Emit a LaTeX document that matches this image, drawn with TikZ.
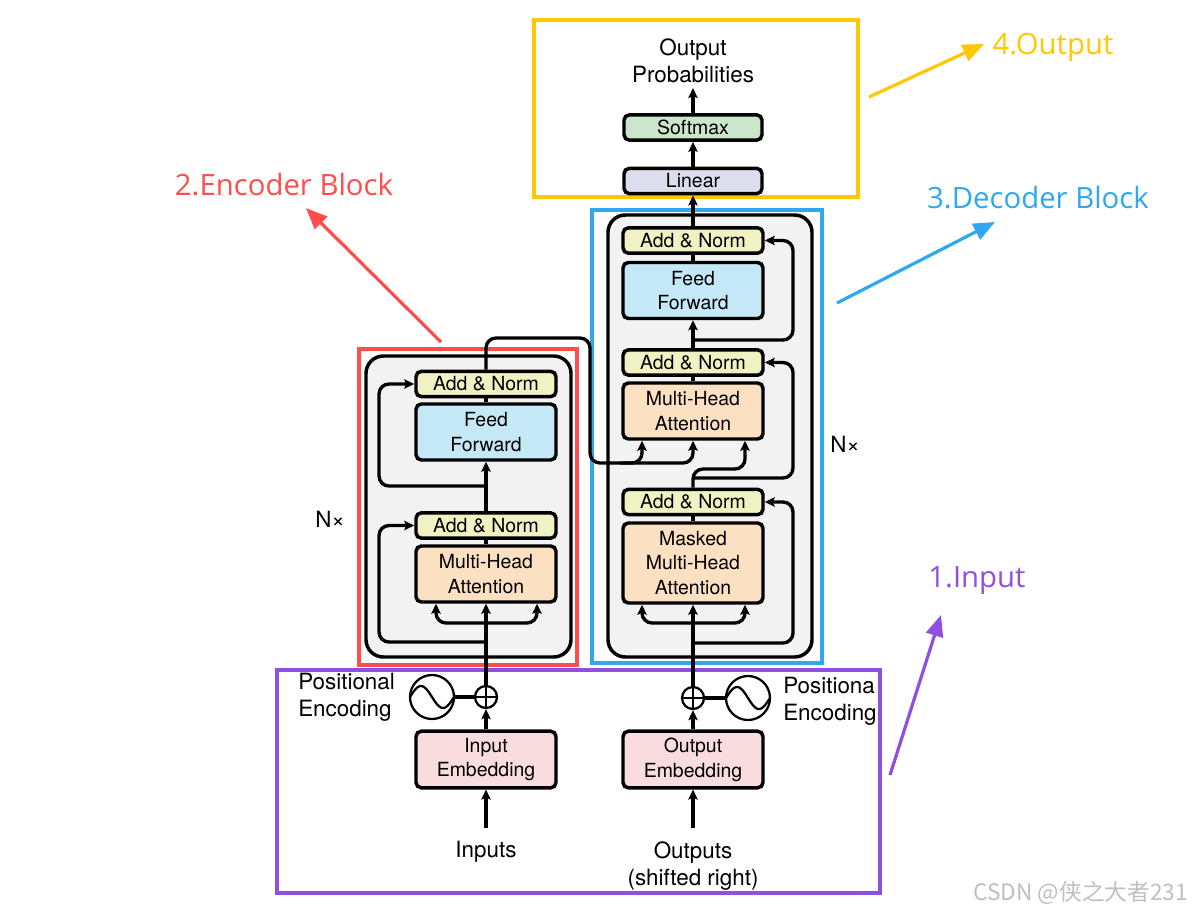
\documentclass[tikz,border=0pt]{standalone}
\usepackage{fontspec}
\setmainfont{TeX Gyre Heros}
\newfontfamily\annfont{Open Sans}
\newfontfamily\cjkfont{Noto Sans CJK SC}
\usetikzlibrary{arrows.meta,calc}
\definecolor{ancol}{RGB}{240,242,196}
\definecolor{ffcol}{RGB}{196,232,245}
\definecolor{mhcol}{RGB}{252,224,194}
\definecolor{emcol}{RGB}{248,220,222}
\definecolor{smcol}{RGB}{204,230,204}
\definecolor{lncol}{RGB}{220,222,238}
\definecolor{blkgray}{RGB}{242,242,242}
\definecolor{redc}{RGB}{255,77,77}
\definecolor{bluec}{RGB}{46,168,240}
\definecolor{yelc}{RGB}{255,200,0}
\definecolor{purc}{RGB}{143,79,227}
\newcommand\bxf{\fontsize{14.6pt}{18.6pt}\selectfont}
\newcommand\lbf{\fontsize{16.8pt}{20.6pt}\selectfont}
\newcommand\anf{\annfont\fontsize{22pt}{26pt}\selectfont}
\begin{document}
\begin{tikzpicture}[x=0.75pt,y=-0.75pt,
  blk/.style={draw, line width=2.6pt, rounded corners=4pt, minimum width=105pt, inner sep=0pt, align=center, font=\bxf},
  anbox/.style={blk, fill=ancol, minimum height=19pt},
  ffbox/.style={blk, fill=ffcol, minimum height=42pt},
  mhbox/.style={blk, fill=mhcol, minimum height=42pt},
  embox/.style={blk, fill=emcol, minimum height=42.5pt},
  conn/.style={line width=2.5pt, rounded corners=7.5pt},
  arr/.style={conn, -{Stealth[length=7.5pt,width=7pt,inset=1.5pt]}},
  lab/.style={font=\lbf, inner sep=0pt, align=center},
  plusc/.style={circle, draw, line width=1.7pt, minimum size=16.5pt, inner sep=0pt},
  sinc/.style={circle, draw, line width=1.7pt, minimum size=33pt, inner sep=0pt},
  annbox/.style={line width=2.3pt},
  annarr/.style={line width=2.4pt, -{Triangle[length=16pt,width=13pt]}},
  annlab/.style={font=\anf, inner sep=0pt}
]
\useasboundingbox (0,0) rectangle (1192,914);
\fill[white] (0,0) rectangle (1192,914);

% gray blocks
\draw[line width=2.6pt, fill=blkgray, rounded corners=13pt] (366,356) rectangle (571,657);
\draw[line width=2.6pt, fill=blkgray, rounded corners=13pt] (608,215) rectangle (812,657);

% annotation frames
\draw[annbox, redc] (359,349) rectangle (577,665);
\draw[annbox, bluec] (592,210) rectangle (822,663);
\draw[annbox, yelc] (534,20) rectangle (858,197);
\draw[annbox, purc] (277,670) rectangle (880,893);

% encoder nodes
\node[anbox] (eAN2) at (486,384) {Add \& Norm};
\node[ffbox] (eFF) at (486,432) {Feed\\Forward};
\node[anbox] (eAN1) at (486,525.5) {Add \& Norm};
\node[mhbox] (eMHA) at (486,574) {Multi-Head\\Attention};
\node[embox] (eIE) at (486,759.5) {Input\\Embedding};
\node[plusc] (eplus) at (486,697) {};
\node[sinc] (esin) at (432,697) {};

% decoder nodes
\node[anbox] (dAN3) at (693,240.5) {Add \& Norm};
\node[ffbox] (dFF) at (693,290.5) {Feed\\Forward};
\node[anbox] (dAN2) at (693,362.5) {Add \& Norm};
\node[mhbox] (dMHA) at (693,411) {Multi-Head\\Attention};
\node[anbox] (dAN1) at (693,502) {Add \& Norm};
\node[blk, fill=mhcol, minimum height=60pt] (dMMHA) at (693,563) {Masked\\Multi-Head\\Attention};
\node[embox] (dOE) at (693,759.5) {Output\\Embedding};
\node[plusc] (dplus) at (693,698) {};
\node[sinc] (dsin) at (748,698) {};

% output nodes
\node[blk, fill=lncol, minimum width=103.5pt, minimum height=19pt] (lin) at (693,181) {Linear};
\node[blk, fill=smcol, minimum width=103.5pt, minimum height=19pt] (soft) at (693,127.5) {Softmax};
\node[lab] (outp) at (693,61) {Output\\Probabilities};

% labels
\node[lab, anchor=west, align=left] (peL) at (298,697) {Positional\\Encoding};
\node[lab, anchor=west, align=left] (peR) at (783,701) {Positiona\\Encoding};
\node[lab] (inp) at (486,852) {Inputs};
\node[lab] (outs) at (693,866) {Outputs\\(shifted right)};
\node[lab] (nxL) at (330,519) {N×};
\node[lab] (nxR) at (845,444) {N×};

% plus signs and sine waves
\foreach \p in {eplus,dplus}{
  \draw[line width=1.7pt] (\p.north) -- (\p.south) (\p.west) -- (\p.east);
}
\draw[line width=1.7pt] plot[domain=-1:1, samples=40] ({432+22*\x},{697-11*sin(180*(\x+1))});
\draw[line width=1.7pt] plot[domain=-1:1, samples=40] ({748+22*\x},{698-11*sin(180*(\x+1))});
\draw[line width=3pt] (esin.east) -- (eplus.west);
\draw[line width=3pt] (dplus.east) -- (dsin.west);

% coordinates
\coordinate (inbot) at (486,828);
\coordinate (outbot) at (693,828);
\coordinate (optop) at (693,88);
\coordinate (eMl) at ($(eMHA.south)+(-50,0)$);
\coordinate (eMr) at ($(eMHA.south)+(51,0)$);
\coordinate (dMl) at ($(dMMHA.south)+(-51,0)$);
\coordinate (dMr) at ($(dMMHA.south)+(52,0)$);
\coordinate (dHl) at ($(dMHA.south)+(-51,0)$);
\coordinate (dHr) at ($(dMHA.south)+(52,0)$);
\coordinate (er1) at (486,642);
\coordinate (ef) at (486,623);
\coordinate (er2) at (486,486);
\coordinate (dr1) at (693,643);
\coordinate (df) at (693,623);
\coordinate (dr2) at (693,478);
\coordinate (dr3) at (693,340);

% encoder connectors
\draw[arr] (inbot) -- (eIE.south);
\draw[arr] (eIE.north) -- (eplus.south);
\draw[arr] (eplus.north) -- (eMHA.south);
\draw[arr] (ef) -- (436,623) -- (eMl);
\draw[arr] (ef) -- (537,623) -- (eMr);
\draw[arr] (er1) -- (379,642) -- (379,525.5) -- (eAN1.west);
\draw[conn] (eMHA.north) -- (eAN1.south);
\draw[arr] (eAN1.north) -- (eFF.south);
\draw[arr] (er2) -- (379,486) -- (379,384) -- (eAN2.west);
\draw[conn] (eFF.north) -- (eAN2.south);
\draw[arr] (eAN2.north) -- (486,338) -- (590,338) -- (590,463) -- (693,463) -- (dMHA.south);
\draw[arr] (620,463) -- (642,463) -- (dHl);

% decoder connectors
\draw[arr] (outbot) -- (dOE.south);
\draw[arr] (dOE.north) -- (dplus.south);
\draw[arr] (dplus.north) -- (dMMHA.south);
\draw[arr] (df) -- (642,623) -- (dMl);
\draw[arr] (df) -- (745,623) -- (dMr);
\draw[arr] (dr1) -- (793,643) -- (793,502) -- (dAN1.east);
\draw[conn] (dMMHA.north) -- (dAN1.south);
\draw[arr] (dAN1.north) -- (693,469) -- (745,469) -- (dHr);
\draw[arr] (dr2) -- (793,478) -- (793,362.5) -- (dAN2.east);
\draw[conn] (dMHA.north) -- (dAN2.south);
\draw[arr] (dAN2.north) -- (dFF.south);
\draw[arr] (dr3) -- (793,340) -- (793,240.5) -- (dAN3.east);
\draw[conn] (dFF.north) -- (dAN3.south);
\draw[arr] (dAN3.north) -- (lin.south);
\draw[arr] (lin.north) -- (soft.south);
\draw[arr] (soft.north) -- (optop);

% annotations
\node[annlab, text=redc] (tEnc) at (284,185) {2.Encoder Block};
\node[annlab, text=bluec] (tDec) at (1038,198) {3.Decoder Block};
\node[annlab, text=yelc] (tOut) at (1053,47) {4.Output};
\node[annlab, text=purc] (tIn) at (977,581) {1.Input};
\coordinate (aEs) at (441,342); \coordinate (aEe) at (306,208);
\coordinate (aDs) at (837,303); \coordinate (aDe) at (995,222);
\coordinate (aOs) at (869,97); \coordinate (aOe) at (984,44);
\coordinate (aIs) at (890,775); \coordinate (aIe) at (941,615);
\draw[annarr, redc] (aEs) -- (aEe);
\draw[annarr, bluec] (aDs) -- (aDe);
\draw[annarr, yelc] (aOs) -- (aOe);
\draw[annarr, purc] (aIs) -- (aIe);

% watermark
\node[anchor=east, inner sep=0pt, text=black!25, font=\cjkfont\fontsize{17pt}{19pt}\selectfont] (wm) at (1188,893) {CSDN @侠之大者231};
\end{tikzpicture}
\end{document}
